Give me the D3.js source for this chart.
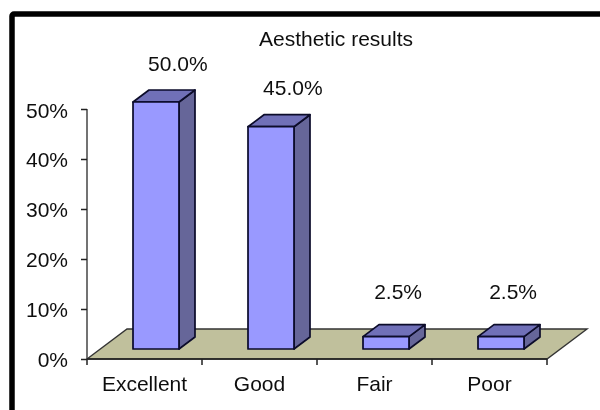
<!DOCTYPE html>
<html><head><meta charset="utf-8">
<style>html,body{margin:0;padding:0;background:#fff}svg{display:block}text{font-family:"Liberation Sans",Arial,sans-serif;fill:#111}</style>
<script src="https://cdnjs.cloudflare.com/ajax/libs/d3/7.8.5/d3.min.js"></script>
</head><body><svg id="c" width="600" height="410"></svg>
<script>
const categories = ["Excellent","Good","Fair","Poor"];
const values = [50,45,2.5,2.5];
const valueLabels = ["50.0%","45.0%","2.5%","2.5%"];
const axisTicks = [0,10,20,30,40,50];
const title = "Aesthetic results";

const svg = d3.select("#c");
const defs = svg.append("defs");
defs.append("filter").attr("id","soft").append("feGaussianBlur").attr("stdDeviation",0.45);
const root = svg.append("g").attr("filter","url(#soft)");

// frame
root.append("rect").attr("x",12).attr("y",14).attr("width",640).attr("height",460).attr("rx",2)
  .attr("fill","#fff").attr("stroke","#000").attr("stroke-width",5.5);

const x = d3.scaleBand().domain(categories).range([87,547]);
const y = d3.scaleLinear().domain([0,50]).range([359,109]);
const labelY = d3.scaleLinear().domain([0,50]).range([366.5,117.5]);
const barH = d3.scaleLinear().domain([0,50]).range([0,247]);
const floorD = {dx:40,dy:-30}, barD = {dx:16,dy:-12};
const bw = x.bandwidth()*0.4, inset = x.bandwidth()*0.4;
const barBase = 349;

// floor
const pts = [[87,359],[87+floorD.dx,359+floorD.dy],[547+floorD.dx,359+floorD.dy],[547,359]];
root.append("polygon").attr("points",pts.join(" ")).attr("fill","#c0c09c").attr("stroke","#333").attr("stroke-width",1.4);

// axes
const yAxis = d3.axisLeft(y).tickValues(axisTicks).tickFormat(d=>d+"%").tickSize(6).tickPadding(13);
const xAxis = d3.axisBottom(x).tickSize(6).tickPadding(11);
const gy = root.append("g").attr("transform","translate(87,0)").call(yAxis);
const gx = root.append("g").attr("transform","translate(0,359)").call(xAxis);
[gy,gx].forEach(g=>{g.selectAll("path,line").attr("stroke","#222").attr("stroke-width",1.5);
  g.selectAll("text").attr("font-size",21).attr("font-family","Liberation Sans").attr("fill","#111");});
gy.select(".domain").attr("d","M0,109V359").attr("stroke","#444");
gy.selectAll(".tick text").attr("dy",0).attr("y",d=>labelY(d)-y(d)-0.5);
gx.select(".domain").attr("d","M87,0H547");
gx.selectAll(".tick line").remove();
gx.selectAll(".edge").data(d3.range(5)).join("line").attr("class","edge")
  .attr("x1",i=>87+i*x.step()).attr("x2",i=>87+i*x.step()).attr("y1",0).attr("y2",6)
  .attr("stroke","#222").attr("stroke-width",1.5);

// bars
const bars = root.selectAll("g.bar").data(categories.map((c,i)=>({c,v:values[i],l:valueLabels[i]}))).join("g").attr("class","bar");
const poly = (g,p,f)=>g.append("polygon").attr("points",p.join(" ")).attr("fill",f).attr("stroke","#0a0a2a").attr("stroke-width",1.7).attr("stroke-linejoin","round");
bars.each(function(d){
  const g=d3.select(this), x0=x(d.c)+inset, x1=x0+bw, t=barBase-barH(d.v), b=barBase;
  poly(g,[[x1,t],[x1+barD.dx,t+barD.dy],[x1+barD.dx,b+barD.dy],[x1,b]],"#666699");
  poly(g,[[x0,t],[x0+barD.dx,t+barD.dy],[x1+barD.dx,t+barD.dy],[x1,t]],"#7070b8");
  poly(g,[[x0,t],[x1,t],[x1,b],[x0,b]],"#9999ff");
});

// value labels (short bars carry their label further left and higher)
const isTall = i => values[i] >= 10;
root.selectAll("text.vl").data(categories).join("text").attr("class","vl")
  .attr("x",(c,i)=>x(c)+x.bandwidth()*(isTall(i)?0.79:0.705))
  .attr("y",(c,i)=>barBase-barH(values[i])-(isTall(i)?31.5:37.5))
  .attr("text-anchor","middle").attr("font-size",21).text((c,i)=>valueLabels[i]);

root.append("text").attr("x",336).attr("y",46).attr("text-anchor","middle").attr("font-size",21).text(title);
</script></body></html>
